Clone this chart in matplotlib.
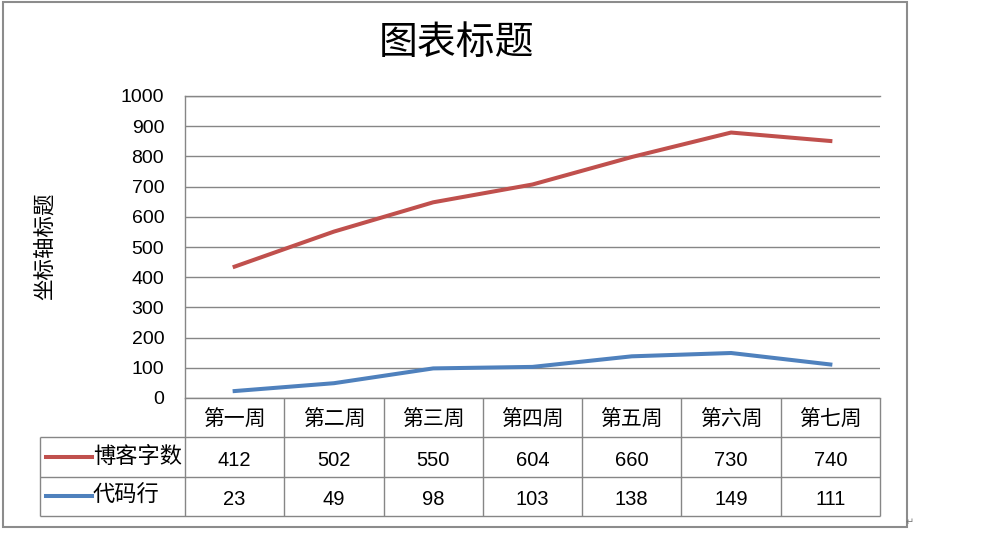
import numpy as np
import matplotlib.pyplot as plt
from matplotlib.patches import Rectangle

plt.rcParams['font.family'] = ['Liberation Sans', 'Noto Sans CJK SC', 'DejaVu Sans']

# data (stacked line chart: red line = 博客字数 + 代码行)
weeks = ['第一周', '第二周', '第三周', '第四周', '第五周', '第六周', '第七周']
blog_words = [412, 502, 550, 604, 660, 730, 740]
code_lines = [23, 49, 98, 103, 138, 149, 111]
series_names = ['博客字数', '代码行']

red = '#C0504D'
blue = '#4F81BD'
grid = '#868686'

W, H = 985, 537
fig = plt.figure(figsize=(W / 100, H / 100), dpi=100)


def box(l, t, r, b):
    # pixel box -> figure fraction
    return [l / W, 1 - b / H, (r - l) / W, (b - t) / H]


ax = fig.add_axes(box(185, 96, 880, 398))
x = np.arange(len(weeks))
stacked = np.array(blog_words) + np.array(code_lines)
ax.plot(x, code_lines, color=blue, lw=2.9)
ax.plot(x, stacked, color=red, lw=2.9)
ax.set_xlim(-0.5, len(weeks) - 0.5)
ax.set_ylim(0, 1000)
ax.set_yticks(range(0, 1001, 100))
ax.set_xticks([])
ax.grid(axis='y', color=grid, lw=1)
ax.set_axisbelow(True)
ax.spines['right'].set_visible(False)
for s in ['left', 'top', 'bottom']:
    ax.spines[s].set_color(grid)
    ax.spines[s].set_linewidth(1)
ax.tick_params(axis='y', length=0, pad=15, labelsize=14)

fig.text(456 / W, 1 - 44 / H, '图表标题', fontsize=28, ha='center', va='center')
fig.text(45 / W, 1 - 246 / H, '坐标轴标题', fontsize=15.5, rotation=90,
         ha='center', va='center')

# data table under the plot
tab = fig.add_axes(box(40, 398, 880, 516))
tab.axis('off')
colw = 695 / len(weeks)
x0 = -0.5 - 145 / colw
tab.set_xlim(x0, len(weeks) - 0.5)
tab.set_ylim(3, 0)
tab.hlines([1, 2, 3], x0, len(weeks) - 0.5, color=grid, lw=1, clip_on=False)
tab.vlines(np.arange(-0.5, len(weeks)), 0, 3, color=grid, lw=1, clip_on=False)
tab.vlines(x0, 1, 3, color=grid, lw=1, clip_on=False)

for i, w in enumerate(weeks):
    tab.text(i, 0.55, w, ha='center', va='center', fontsize=15)
for row, (name, vals, c) in enumerate([(series_names[0], blog_words, red),
                                       (series_names[1], code_lines, blue)]):
    yy = 1.5 + row
    tab.plot([x0 + 0.06, x0 + 0.52], [yy, yy], color=c, lw=2.9, clip_on=False)
    tab.text(x0 + 0.53, yy, name, ha='left', va='center', fontsize=16)
    for i, v in enumerate(vals):
        tab.text(i, yy + 0.08, str(v), ha='center', va='center', fontsize=14.5)

fig.patches.append(Rectangle((3 / W, 1 - 527 / H), 904 / W, 525 / H,
                             transform=fig.transFigure, fill=False,
                             ec='#8c8c8c', lw=1.5))
fig.text(910 / W, 1 - 522 / H, '↵', fontsize=7, color='#777777',
         ha='center', va='center', family='DejaVu Sans')

fig.savefig('out.png', dpi=100)
